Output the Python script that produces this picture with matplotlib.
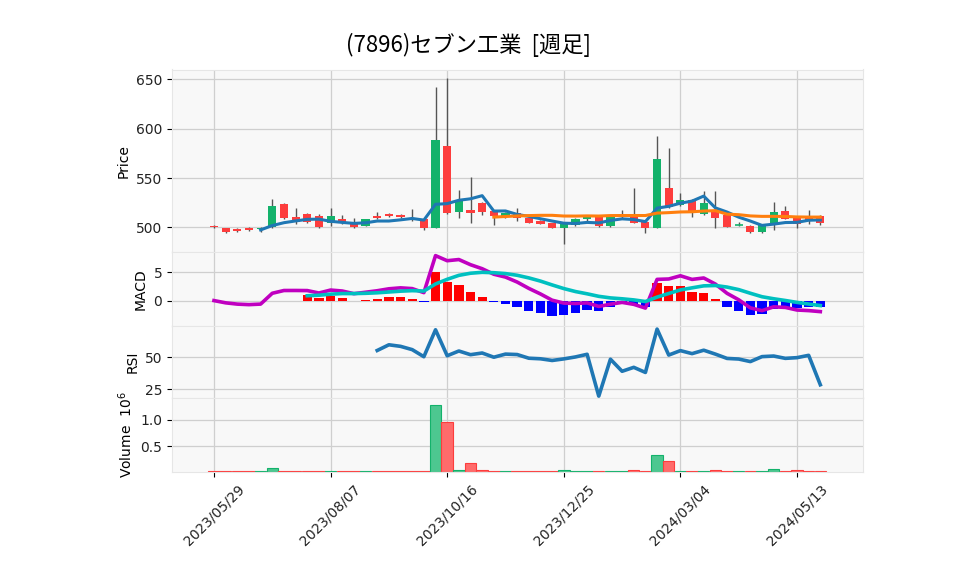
import matplotlib
matplotlib.use("Agg")
import matplotlib.pyplot as plt
import numpy as np
import pandas as pd

plt.rcParams['font.family'] = ['DejaVu Sans', 'Noto Sans CJK JP']

title = "(7896)セブン工業  [週足]"
start_date = "2023-05-29"
n_weeks = 53

opens = [501, 499, 498, 499, 498, 500, 524, 510, 514, 511,
         504, 508, 505, 501, 511, 514, 513, 509, 508, 499.5,
         582, 515.5, 518, 525, 517, 512, 515, 509, 506.6, 504,
         499.5, 502, 508, 510, 501, 510, 510, 505.7, 499.5, 540,
         522.5, 528, 513.4, 517, 513, 502, 501, 495, 503, 517,
         509, 509, 512]
highs = [502, 499.5, 499, 500, 500, 529, 524.5, 520, 515, 514,
         520, 513, 509, 508.5, 516, 515, 514, 519, 508, 642,
         651, 538, 551, 525.5, 517.5, 516, 520, 510, 507, 504.5,
         505, 509, 510.5, 511, 513, 518, 540, 506, 593, 580.6,
         534.6, 528.5, 536.7, 537, 513.5, 505, 502, 503.5, 526, 521.5,
         509.5, 518, 513]
lows = [499, 494, 495, 496, 495, 499.5, 508, 503, 504.5, 499.5,
        501, 503.5, 499, 501, 508.5, 510, 509.5, 506, 497, 499,
        514, 509, 504, 512, 502, 509, 506, 504, 503, 499,
        483, 501, 506, 500, 500.5, 509, 504, 494.5, 499, 520,
        522, 510, 512, 499, 500, 501, 494, 494.5, 497, 508,
        499, 503, 502]
closes = [500, 495, 496, 497, 499, 522, 509.5, 505, 505, 500,
          511, 504, 500, 508, 509, 511, 510, 507, 499.7, 589,
          514.5, 527, 514.5, 515.5, 511, 515, 509.5, 504.5, 503.5, 499.5,
          504, 508, 510, 501, 512, 512, 504.5, 499.5, 569.5, 521,
          528, 515, 525, 509.6, 500, 502, 495.3, 503, 516, 508,
          503, 506, 504.5]
volumes_m = [0.02, 0.018, 0.017, 0.018, 0.02, 0.08, 0.02, 0.02, 0.018, 0.02,
             0.018, 0.02, 0.018, 0.02, 0.02, 0.018, 0.02, 0.018, 0.02, 1.29,
             0.96, 0.05, 0.17, 0.05, 0.03, 0.02, 0.018, 0.02, 0.018, 0.02,
             0.035, 0.02, 0.018, 0.02, 0.02, 0.018, 0.035, 0.02, 0.33, 0.21,
             0.02, 0.02, 0.018, 0.035, 0.02, 0.018, 0.02, 0.02, 0.06, 0.02,
             0.035, 0.02, 0.02]

df = pd.DataFrame({"Open": opens, "High": highs, "Low": lows,
                   "Close": closes, "Volume": np.array(volumes_m) * 1e6},
                  index=pd.date_range(start_date, periods=n_weeks, freq="7D"))

c = df["Close"]
ma5 = c.rolling(5).mean()
ma25 = c.rolling(25).mean()
ema12 = c.ewm(span=12, adjust=False).mean()
ema26 = c.ewm(span=26, adjust=False).mean()
macd = ema12 - ema26
signal = macd.ewm(span=9, adjust=False, min_periods=9).mean()
hist = macd - signal
delta = c.diff()
gain = delta.clip(lower=0).rolling(14).mean()
loss = (-delta.clip(upper=0)).rolling(14).mean()
rsi = 100 - 100 / (1 + gain / loss)

x = np.arange(len(df))
up = df["Close"] >= df["Open"]

UPC = '#13b26b'
DNC = '#fd3d3d'
VUPC = '#4dc790'
VDNC = '#ff6b6b'
BG = '#f8f8f8'
GRID = '#cfcfcf'

fig = plt.figure(figsize=(9.58, 5.75), dpi=100)
L, W = 172 / 958, (863 - 172) / 958

def fy(px):
    return 1 - px / 575

bounds = [69.5, 252, 326, 398, 472]
axes = []
for i in range(4):
    ax = fig.add_axes([L, fy(bounds[i + 1]), W, fy(bounds[i]) - fy(bounds[i + 1])])
    ax.set_facecolor(BG)
    for s in ax.spines.values():
        s.set_color('#e6e6e6')
        s.set_linewidth(0.8)
    ax.grid(True, color=GRID, linewidth=0.9)
    ax.set_axisbelow(True)
    ax.tick_params(labelsize=10, length=3.5, color='black', labelcolor='#222222')
    axes.append(ax)

ax_p, ax_m, ax_r, ax_v = axes
xlim = (-3.6, 55.66)
ticks = list(range(0, n_weeks, 10))
for ax in axes:
    ax.set_xlim(*xlim)
    ax.set_xticks(ticks)
    if ax is not ax_v:
        ax.tick_params(axis='x', labelbottom=False, length=0)

# candles
for xi, o, h, l, cl, u in zip(x, df.Open, df.High, df.Low, df.Close, up):
    col = UPC if u else DNC
    ax_p.vlines(xi, l, h, color='#555555', linewidth=1.0, zorder=2)
    bh = abs(cl - o)
    if bh < 0.4:
        ax_p.hlines(o, xi - 0.35, xi + 0.35, color=col, linewidth=1.2, zorder=3)
    else:
        ax_p.bar(xi, bh, bottom=min(o, cl), width=0.7, color=col, zorder=3, linewidth=0)
ax_p.plot(x, ma5, color='#1f77b4', linewidth=2.2, zorder=4)
ax_p.plot(x, ma25, color='#ff7f0e', linewidth=2.2, zorder=4)
ax_p.set_ylim(475, 660)
ax_p.set_yticks([500, 550, 600, 650])
ax_p.set_ylabel("Price", fontsize=10)

# MACD
hcol = ['#ff0000' if v >= 0 else '#0000ff' for v in hist.fillna(0)]
ax_m.bar(x, hist, width=0.8, color=hcol, zorder=2, linewidth=0)
ax_m.plot(x, macd, color='#c000c0', linewidth=2.6, zorder=3)
ax_m.plot(x, signal, color='#00c0c0', linewidth=2.6, zorder=3)
ax_m.set_ylim(-4.5, 8.6)
ax_m.set_yticks([0, 5])
ax_m.set_ylabel("MACD", fontsize=10)

# RSI
ax_r.plot(x, rsi, color='#1f77b4', linewidth=2.6, zorder=3)
ax_r.set_ylim(18, 74.5)
ax_r.set_yticks([25, 50])
ax_r.set_ylabel("RSI", fontsize=10)

# Volume
vm = df["Volume"] / 1e6
ax_v.bar(x, vm, width=0.98, color=[VUPC if u else VDNC for u in up],
         edgecolor=[UPC if u else DNC for u in up], linewidth=0.8, zorder=2)
ax_v.set_ylim(0.006, 1.42)
ax_v.set_yticks([0.5, 1.0])
ax_v.set_yticklabels(["0.5", "1.0"])
ax_v.set_ylabel("Volume  $10^{6}$", fontsize=10)
ax_v.set_xticklabels([df.index[t].strftime("%Y/%m/%d") for t in ticks],
                     rotation=45, ha='center', fontsize=10)

fig.suptitle(title, x=0.489, y=fy(45), va='center', fontsize=16,
             family=['Noto Sans CJK JP', 'DejaVu Sans'])

fig.savefig("out.png", dpi=100)
